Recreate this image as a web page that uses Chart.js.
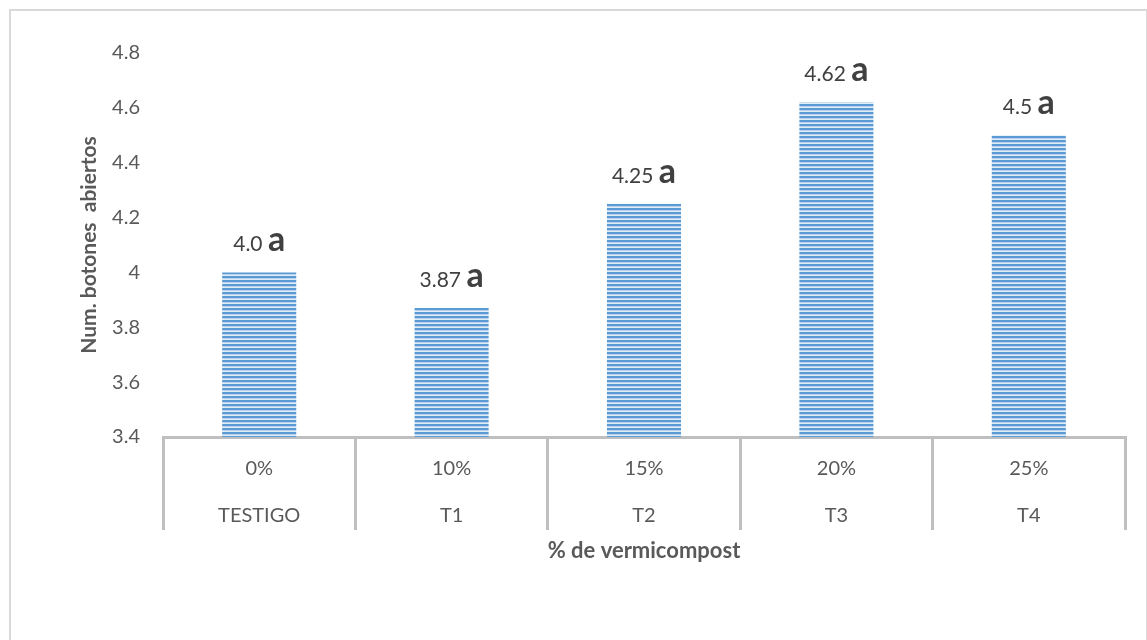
<!DOCTYPE html>
<html>
<head>
<meta charset="utf-8">
<script src="https://cdn.jsdelivr.net/npm/chart.js@4.4.0/dist/chart.umd.min.js"></script>
<style>
    body { margin: 0; background: #fff; }
    #marco { position: absolute; left: 9px; top: 9px; width: 1135px; height: 660px; border: 2px solid #d9d9d9; }
    #grafico { position: absolute; left: 0; top: 0; }
</style>
</head>
<body>
<div id="marco"></div>
<canvas id="grafico" width="1147" height="640"></canvas>
<script>
// Datos del ensayo
const porcentajes = ['0%', '10%', '15%', '20%', '25%'];
const tratamientos = ['TESTIGO', 'T1', 'T2', 'T3', 'T4'];
const botonesAbiertos = [4.0, 3.87, 4.25, 4.62, 4.5];
const letrasTukey = ['a', 'a', 'a', 'a', 'a'];

const FUENTE = 'Lato, "Open Sans", sans-serif';
const GRIS = '#595959';
const LINEA = '#bfbfbf';

const ctx = document.getElementById('grafico').getContext('2d');

// Relleno rayado horizontal de las barras
function rayado() {
    const c = document.createElement('canvas');
    c.width = 4;
    c.height = 4;
    const g = c.getContext('2d');
    g.fillStyle = '#e2ecf7';
    g.fillRect(0, 0, 4, 4);
    g.fillStyle = '#5b9bd5';
    g.fillRect(0, 0, 4, 2);
    g.fillStyle = '#8cb8e3';
    g.fillRect(0, 2, 4, 0.5);
    return ctx.createPattern(c, 'repeat');
}

function formatoValor(v) {
    return Number.isInteger(v) ? v.toFixed(1) : String(v);
}

// Etiqueta "valor letra" sobre cada barra
const etiquetas = {
    id: 'etiquetas',
    afterDatasetsDraw(chart) {
        const c = chart.ctx;
        const meta = chart.getDatasetMeta(0);
        const fNum = '21px ' + FUENTE;
        const fLetra = 'bold 34px ' + FUENTE;
        meta.data.forEach((bar, i) => {
            const num = formatoValor(botonesAbiertos[i]) + ' ';
            const letra = letrasTukey[i];
            c.save();
            c.font = fNum;
            const wNum = c.measureText(num).width;
            c.font = fLetra;
            const wLetra = c.measureText(letra).width;
            const x0 = bar.x - (wNum + wLetra) / 2;
            const yb = bar.y - 21;
            c.fillStyle = '#404040';
            c.textBaseline = 'alphabetic';
            c.textAlign = 'left';
            c.font = fNum;
            c.fillText(num, x0, yb);
            c.font = fLetra;
            c.fillText(letra, x0 + wNum, yb);
            c.restore();
        });
    }
};

new Chart(ctx, {
    type: 'bar',
    data: {
        labels: porcentajes.map((p, i) => [p, tratamientos[i]]),
        datasets: [{
            data: botonesAbiertos,
            backgroundColor: rayado(),
            borderWidth: 0,
            categoryPercentage: 1,
            barPercentage: 0.385
        }]
    },
    options: {
        responsive: false,
        animation: false,
        layout: { padding: { top: 53, right: 22, left: 0, bottom: 0 } },
        plugins: {
            legend: { display: false },
            tooltip: { enabled: false }
        },
        scales: {
            x: {
                afterFit: s => { s.height = 203; },
                grid: {
                    offset: true,
                    drawOnChartArea: false,
                    drawTicks: true,
                    tickLength: 93,
                    color: LINEA,
                    lineWidth: 3
                },
                border: { display: true, color: LINEA, width: 3 },
                ticks: {
                    color: GRIS,
                    padding: -85,
                    font: { family: FUENTE, size: 20, lineHeight: 2.35 }
                },
                title: {
                    display: true,
                    text: '% de vermicompost',
                    color: GRIS,
                    font: { family: FUENTE, size: 22, weight: 'bold' },
                    padding: { top: 0, bottom: 76 }
                }
            },
            y: {
                min: 3.4,
                max: 4.8,
                afterFit: s => { s.width = 163; },
                grid: { display: false, drawTicks: false },
                border: { display: false },
                ticks: {
                    stepSize: 0.2,
                    color: GRIS,
                    padding: 23,
                    font: { family: FUENTE, size: 20 },
                    callback: v => String(Number(v.toFixed(1)))
                },
                title: {
                    display: true,
                    text: 'Num. botones  abiertos',
                    color: GRIS,
                    font: { family: FUENTE, size: 21, weight: 'bold' },
                    padding: { top: 77, bottom: 0 }
                }
            }
        }
    },
    plugins: [etiquetas]
});
</script>
</body>
</html>
